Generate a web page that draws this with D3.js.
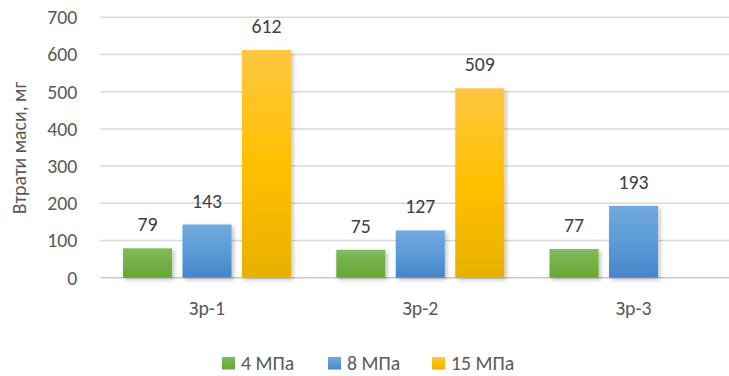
<!DOCTYPE html>
<html>
<head>
<meta charset="utf-8">
<script src="https://cdn.jsdelivr.net/npm/d3@7"></script>
<style>
  html, body { margin: 0; padding: 0; background: #fff; }
  svg { display: block; font-family: Carlito, Calibri, Lato, sans-serif; }
</style>
</head>
<body>
<svg id="chart"></svg>
<script>
// data
const categories = ["Зр-1", "Зр-2", "Зр-3"];
const seriesNames = ["4 МПа", "8 МПа", "15 МПа"];
const values4 = [79, 75, 77];
const values8 = [143, 127, 193];
const values15 = [612, 509, null];
const yTicks = [0, 100, 200, 300, 400, 500, 600, 700];

const seriesValues = [values4, values8, values15];

// colours per series: [top, middle, bottom]
const seriesColors = [
  ["#82bb5e", "#72b043", "#65a836"],
  ["#72a9de", "#5b9bd5", "#4685cb"],
  ["#ffc741", "#ffc000", "#e8b000"],
];

// dimensions
const totalWidth = 729;
const totalHeight = 376;
const plotLeft = 100.4;
const plotRight = 740.2;
const plotTop = 17.3;
const plotBottom = 277.7;
const fontSize = 19.8;

const svg = d3
  .select("#chart")
  .attr("width", totalWidth)
  .attr("height", totalHeight);

const defs = svg.append("defs");

seriesColors.forEach((c, i) => {
  const g = defs
    .append("linearGradient")
    .attr("id", "grad" + i)
    .attr("x1", "0%")
    .attr("y1", "0%")
    .attr("x2", "0%")
    .attr("y2", "100%");
  g.append("stop").attr("offset", "0%").attr("stop-color", c[0]);
  g.append("stop").attr("offset", "50%").attr("stop-color", c[1]);
  g.append("stop").attr("offset", "100%").attr("stop-color", c[2]);
});

const shadow = defs
  .append("filter")
  .attr("id", "barShadow")
  .attr("x", "-20%")
  .attr("y", "-10%")
  .attr("width", "150%")
  .attr("height", "130%");
shadow
  .append("feDropShadow")
  .attr("dx", 2)
  .attr("dy", 2)
  .attr("stdDeviation", 2)
  .attr("flood-color", "#000")
  .attr("flood-opacity", 0.25);

// scales
const x0 = d3
  .scaleBand()
  .domain(categories)
  .range([plotLeft, plotRight])
  .paddingInner(0)
  .paddingOuter(0);

const groupInset = (x0.step() - 168) / 2;
const x1 = d3
  .scaleBand()
  .domain(seriesNames)
  .range([groupInset, x0.step() - groupInset])
  .paddingInner(0.176)
  .paddingOuter(0);

const yScale = d3.scaleLinear().domain([0, 700]).range([plotBottom, plotTop]);

// gridlines
svg
  .append("g")
  .attr("class", "y-grid")
  .selectAll("line")
  .data(yTicks)
  .enter()
  .append("line")
  .attr("x1", plotLeft)
  .attr("x2", plotRight)
  .attr("y1", (d) => yScale(d))
  .attr("y2", (d) => yScale(d))
  .attr("stroke", (d) => (d === 0 ? "#c8c8c8" : "#d9d9d9"))
  .attr("stroke-width", 1.5);

// y axis labels
const yAxis = svg
  .append("g")
  .attr("transform", "translate(" + (plotLeft - 23) + ",0)")
  .call(d3.axisLeft(yScale).tickValues(yTicks).tickSize(0).tickPadding(0));
yAxis.select(".domain").remove();
yAxis
  .selectAll("text")
  .attr("fill", "#595959")
  .attr("font-size", fontSize)
  .attr("font-family", "Carlito, Calibri, Lato, sans-serif");

// y axis title
svg
  .append("text")
  .attr("transform", "translate(26," + 148 + ") rotate(-90)")
  .attr("text-anchor", "middle")
  .attr("fill", "#595959")
  .attr("font-size", fontSize)
  .text("Втрати маси, мг");

// x axis labels
const xAxis = svg
  .append("g")
  .attr("transform", "translate(0," + plotBottom + ")")
  .call(d3.axisBottom(x0).tickSize(0).tickPadding(23));
xAxis.select(".domain").remove();
xAxis
  .selectAll("text")
  .attr("fill", "#595959")
  .attr("font-size", fontSize)
  .attr("font-family", "Carlito, Calibri, Lato, sans-serif");

// bars
const groups = svg
  .append("g")
  .attr("class", "bars")
  .selectAll("g")
  .data(categories)
  .enter()
  .append("g")
  .attr("transform", (d) => "translate(" + x0(d) + ",0)");

groups.each(function (cat, ci) {
  const items = seriesNames
    .map((s, si) => ({ s: s, si: si, v: seriesValues[si][ci] }))
    .filter((d) => d.v !== null);
  const g = d3.select(this);
  g.selectAll("rect")
    .data(items)
    .enter()
    .append("rect")
    .attr("x", (d) => x1(d.s))
    .attr("width", x1.bandwidth())
    .attr("y", (d) => yScale(d.v))
    .attr("height", (d) => yScale(0) - yScale(d.v))
    .attr("fill", (d) => "url(#grad" + d.si + ")")
    .attr("filter", "url(#barShadow)");
  g.selectAll("text")
    .data(items)
    .enter()
    .append("text")
    .attr("x", (d) => x1(d.s) + x1.bandwidth() / 2)
    .attr("y", (d) => yScale(d.v) - 17)
    .attr("text-anchor", "middle")
    .attr("fill", "#404040")
    .attr("font-size", fontSize)
    .text((d) => d.v);
});

// legend
const legendX = [222, 328, 432];
const legend = svg
  .append("g")
  .attr("class", "legend")
  .selectAll("g")
  .data(seriesNames)
  .enter()
  .append("g")
  .attr("transform", (d, i) => "translate(" + legendX[i] + ",357)");
legend
  .append("rect")
  .attr("width", 13)
  .attr("height", 12.5)
  .attr("fill", (d, i) => "url(#grad" + i + ")");
legend
  .append("text")
  .attr("x", 19)
  .attr("y", 12.6)
  .attr("fill", "#595959")
  .attr("font-size", fontSize)
  .text((d) => d);
</script>
</body>
</html>
